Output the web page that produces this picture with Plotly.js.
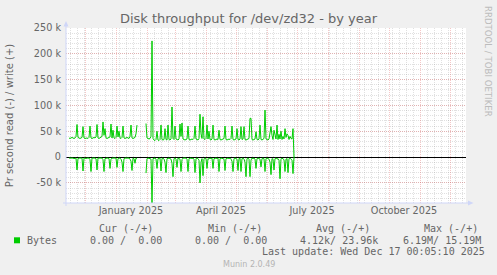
<!DOCTYPE html>
<html><head><meta charset="utf-8">
<script src="https://cdn.plot.ly/plotly-3.0.1.min.js"></script>
<style>html,body{margin:0;padding:0;background:#f0f0f0;} #chart{width:497px;height:275px;}</style>
</head><body><div id="chart"></div>
<script>
// ---- data (daily averages, thousands of bytes per second) ----
const firstSampleDate = '2024-11-15';
const writeK = [
  37,36,37,38,37,36,37,40,63,38,
  37,36,37,38,59,37,36,37,37,36,
  38,60,37,36,37,38,37,39,63,37,
  36,37,38,40,68,42,55,37,36,37,
  38,39,64,37,52,37,36,38,60,39,
  50,37,36,38,60,37,36,37,38,37,
  36,40,62,37,36,37,38,45,62,null,
  null,null,null,null,null,null,null,65,37,36,
  35,36,40,225,36,33,32,34,50,33,
  32,34,62,34,33,34,55,34,33,62,
  34,33,35,97,36,34,60,35,34,33,
  35,64,40,66,35,34,33,34,35,60,
  34,33,34,35,34,36,60,35,34,33,
  36,83,45,36,78,35,34,36,62,35,
  50,34,33,35,62,34,33,34,35,34,
  52,34,33,34,35,36,60,34,33,34,
  35,34,36,60,34,33,34,35,55,34,
  33,35,59,34,35,59,34,33,34,35,
  36,75,75,34,33,34,35,49,34,33,
  35,62,34,33,34,36,91,35,34,33,
  35,48,59,42,34,52,40,35,62,34,
  44,35,50,34,40,35,55,38,45,42,
  34,40,36,35,55,0
];
const readK = [
  2,2,1,2,2,3,2,2,25,3,
  2,2,1,2,27,2,2,3,2,2,
  2,5,28,2,2,1,2,3,25,2,
  2,3,2,2,5,28,3,2,2,2,
  3,22,4,2,2,3,2,2,20,3,
  2,2,4,10,28,3,2,2,2,3,
  2,4,8,26,2,3,12,2,3,null,
  null,null,null,null,null,null,null,31,3,2,
  2,3,4,89,3,2,2,4,22,3,
  2,2,27,3,2,4,10,30,3,2,
  2,3,4,12,38,3,2,4,20,2,
  3,4,28,5,2,2,3,2,4,28,
  3,2,2,3,2,4,30,3,2,3,
  6,50,10,3,36,4,2,3,22,3,
  4,2,3,2,22,3,2,2,3,2,
  28,3,2,2,3,4,26,3,2,2,
  3,2,4,8,28,3,2,3,4,26,
  3,2,28,3,2,4,10,38,3,2,
  4,38,6,2,3,2,4,22,3,2,
  3,4,19,3,2,3,28,3,2,3,
  4,10,34,3,4,25,3,2,4,3,
  6,42,4,2,3,5,28,4,3,30,
  3,2,4,6,32,0
];
const rangeStart = '2024-11-12 00:05:10';
const rangeEnd = '2025-12-17 00:05:10';
const monthLabels = ['January 2025','April 2025','July 2025','October 2025'];
const monthLabelDates = ['2025-01-16','2025-04-16','2025-07-16','2025-10-16'];
const yTickVals = [-50000,0,50000,100000,150000,200000,250000];
const yTickText = ['-50 k','0','50 k','100 k','150 k','200 k','250 k'];
const legendHeaders = ['Cur (-/+)','Min (-/+)','Avg (-/+)','Max (-/+)'];
const legendValues = ['0.00 /  0.00','0.00 /  0.00','4.12k/ 23.96k','6.19M/ 15.19M'];
const seriesName = 'Bytes';
const lastUpdate = 'Last update: Wed Dec 17 00:05:10 2025';

// ---- build ----
const t0 = Date.parse(firstSampleDate + 'T00:00:00Z');
const dates = writeK.map((_, i) => new Date(t0 + i * 86400000).toISOString().slice(0, 10));
const green = '#00cc00';

const traces = [
  {x: dates, y: writeK.map(v => v == null ? null : v * 1000), xaxis: 'x', yaxis: 'y',
   mode: 'lines', line: {color: green, width: 1}, hoverinfo: 'skip', connectgaps: false},
  {x: dates, y: readK.map(v => v == null ? null : -v * 1000), xaxis: 'x2', yaxis: 'y',
   mode: 'lines', line: {color: green, width: 1}, hoverinfo: 'skip', connectgaps: false}
];

const W = 400, H = 175, L = 66, T = 28;
const px = v => (v - L) / W;
const py = v => (T + H - v) / H;

const majorGrid = 'rgba(224,80,80,0.32)';
const minorGrid = 'rgba(143,143,143,0.28)';
const axisBlue = '#cfd6f8';
const fontCol = '#666666';
const mono = 'DejaVu Sans Mono';

const annotations = [];
const headerX = [98.3, 206.7, 315, 422.7];
const valueX = [89.3, 194, 299, 402.3];
legendHeaders.forEach((h, i) => annotations.push({xref:'paper', yref:'paper', x: px(headerX[i]-1), y: py(228.5),
  xanchor:'left', yanchor:'middle', text: h, showarrow:false, font:{family:mono, size:10, color:fontCol}}));
legendValues.forEach((h, i) => annotations.push({xref:'paper', yref:'paper', x: px(valueX[i]-1), y: py(240.3),
  xanchor:'left', yanchor:'middle', text: h.replace(/ /g,'&nbsp;'), showarrow:false, font:{family:mono, size:10, color:fontCol}}));
annotations.push({xref:'paper', yref:'paper', x: px(25), y: py(240.3), xanchor:'left', yanchor:'middle',
  text: seriesName, showarrow:false, font:{family:mono, size:10, color:fontCol}});
annotations.push({xref:'paper', yref:'paper', x: px(260), y: py(251.5), xanchor:'left', yanchor:'middle',
  text: lastUpdate, showarrow:false, font:{family:mono, size:10, color:fontCol}});
annotations.push({xref:'paper', yref:'paper', x: px(248.8), y: py(264.3), xanchor:'center', yanchor:'middle',
  text: 'Munin 2.0.49', showarrow:false, font:{family:'DejaVu Sans', size:8, color:'#b4b4b4'}});
annotations.push({xref:'paper', yref:'paper', x: px(488), y: py(61), xanchor:'center', yanchor:'middle',
  text: 'RRDTOOL / TOBI OETIKER', textangle: 90, showarrow:false, font:{family:'DejaVu Sans', size:8.6, color:'#bcbcbc'}});

const shapes = [
  // axis lines with arrows
  {type:'line', xref:'paper', yref:'paper', x0: 0, x1: 0, y0: py(206), y1: py(24), line:{color:axisBlue, width:1}},
  {type:'path', xref:'paper', yref:'paper', path:`M ${px(63.5)} ${py(26.5)} L ${px(66)} ${py(21)} L ${px(68.5)} ${py(26.5)} Z`, fillcolor:axisBlue, line:{width:0}},
  {type:'line', xref:'paper', yref:'paper', x0: px(63), x1: px(469), y0: 0, y1: 0, line:{color:axisBlue, width:1}},
  {type:'path', xref:'paper', yref:'paper', path:`M ${px(468)} ${py(200.5)} L ${px(473.5)} ${py(203)} L ${px(468)} ${py(205.5)} Z`, fillcolor:axisBlue, line:{width:0}},
  // legend colour box
  {type:'rect', xref:'paper', yref:'paper', x0: px(14), x1: px(20), y0: py(237.3), y1: py(243.3), fillcolor: green, line:{width:0}}
];

const layout = {
  width: 497, height: 275,
  paper_bgcolor: '#f0f0f0', plot_bgcolor: '#ffffff',
  margin: {l: L, r: 497 - L - W, t: T, b: 275 - T - H, pad: 0},
  showlegend: false,
  font: {family: 'DejaVu Sans', color: fontCol},
  title: {text: 'Disk throughput for /dev/zd32 - by year', font: {family:'DejaVu Sans', size: 13, color: fontCol},
          x: 0.5, xref: 'container', xanchor: 'center', y: 1 - 18.5/275, yref: 'container', yanchor: 'middle'},
  xaxis: {type:'date', range:[rangeStart, rangeEnd], tickmode:'linear', tick0:'2024-12-01', dtick:'M1',
          showticklabels:false, ticks:'', showgrid:true, gridcolor: majorGrid, griddash:'1px,1px', gridwidth:1,
          showline:false, zeroline:false, fixedrange:true,
          minor:{tickmode:'linear', tick0:'2024-11-16', dtick: 604800000, showgrid:true, gridcolor: minorGrid, griddash:'1px,1px', gridwidth:1, ticks:''}},
  xaxis2: {type:'date', range:[rangeStart, rangeEnd], overlaying:'x', anchor:'y', side:'bottom',
           tickmode:'array', tickvals: monthLabelDates, ticktext: monthLabels, showgrid:false, zeroline:false,
           showline:false, ticks:'', tickfont:{family:'DejaVu Sans', size:9.7, color:fontCol}, fixedrange:true},
  yaxis: {range:[-89000, 250000], tickmode:'array', tickvals: yTickVals, ticktext: yTickText, ticks:'',
          showgrid:true, gridcolor: majorGrid, griddash:'1px,1px', gridwidth:1,
          zeroline:true, zerolinecolor:'#000000', zerolinewidth:1, showline:false, fixedrange:true,
          ticklabelstandoff: 4,
          tickfont:{family:'DejaVu Sans', size:9.7, color:fontCol},
          minor:{tickmode:'linear', tick0:0, dtick:10000, showgrid:true, gridcolor:minorGrid, griddash:'1px,1px', gridwidth:1, ticks:''},
          title:{text:'Pr second read (-) / write (+)', font:{family:'DejaVu Sans', size:10, color:fontCol}, standoff: 18}},
  annotations: annotations,
  shapes: shapes
};

Plotly.newPlot('chart', traces, layout, {staticPlot: true, displayModeBar: false});
</script>
</body></html>
